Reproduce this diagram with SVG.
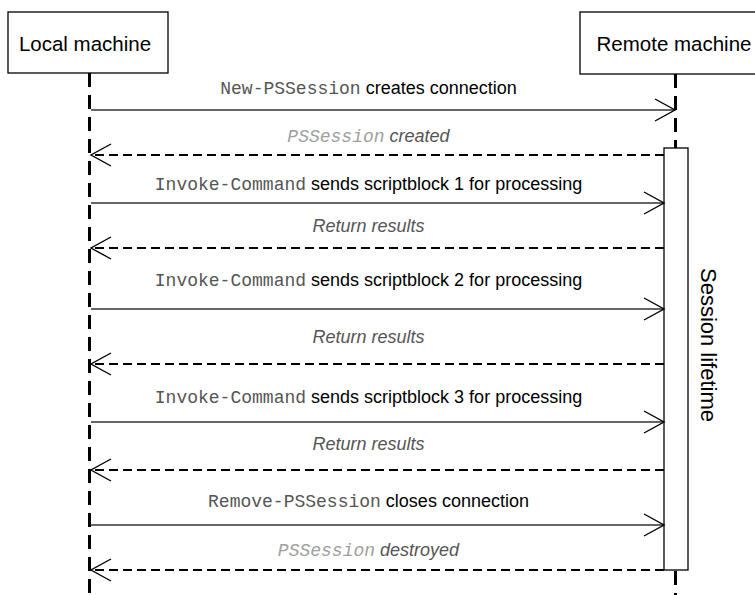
<svg xmlns="http://www.w3.org/2000/svg" width="755" height="595" viewBox="0 0 755 595">
<style>
.box{fill:#fff;stroke:#000;stroke-width:1.3}
.life{stroke:#000;stroke-width:3;stroke-dasharray:14 8;fill:none}
.call{stroke:#333;stroke-width:1.5;fill:none;marker-end:url(#open)}
.ret{stroke:#000;stroke-width:2;stroke-dasharray:9 5;fill:none;marker-end:url(#open)}
.hdr{font-family:"Liberation Sans",Arial,sans-serif;font-size:20.5px;fill:#000}
.lbl{font-family:"Liberation Sans",Arial,sans-serif;font-size:18px;fill:#000;text-anchor:middle}
.rlbl{font-family:"Liberation Sans",Arial,sans-serif;font-size:18px;fill:#555;font-style:italic;text-anchor:middle}
.mono{font-family:"Liberation Mono","Courier New",monospace;fill:#555}
.mgray{font-family:"Liberation Mono","Courier New",monospace;fill:#a0a0a0}
</style>
<defs>
<marker id="open" markerUnits="userSpaceOnUse" markerWidth="24" markerHeight="26" refX="21" refY="12" orient="auto" viewBox="0 0 24 26">
<path d="M1,1 L21,12 L1,23" fill="none" stroke="#000" stroke-width="1.4"/>
</marker>
</defs>
<rect width="755" height="595" fill="#fff"/>
<g id="local">
<rect class="box" x="8" y="12" width="160" height="61"/>
<text class="hdr" x="85" y="51" text-anchor="middle">Local machine</text>
<line class="life" x1="89.5" y1="73" x2="89.5" y2="595"/>
</g>
<g id="remote">
<rect class="box" x="580" y="12" width="190" height="62"/>
<text class="hdr" x="674" y="51" text-anchor="middle">Remote machine</text>
<line class="life" x1="675.5" y1="74" x2="675.5" y2="148"/>
<line class="life" x1="675.5" y1="571" x2="675.5" y2="595"/>
</g>
<g id="activation">
<rect class="box" x="664" y="148" width="24" height="422"/>
<text class="hdr" transform="translate(701,345) rotate(90)" text-anchor="middle" style="font-size:22px">Session lifetime</text>
</g>
<g id="connectors">
<line class="call" x1="91" y1="110" x2="675" y2="110"/>
<line class="ret" x1="664" y1="155" x2="91" y2="155"/>
<line class="call" x1="91" y1="203" x2="664" y2="203"/>
<line class="ret" x1="664" y1="248" x2="91" y2="248"/>
<line class="call" x1="91" y1="309" x2="664" y2="309"/>
<line class="ret" x1="664" y1="364" x2="91" y2="364"/>
<line class="call" x1="91" y1="422" x2="664" y2="422"/>
<line class="ret" x1="664" y1="470" x2="91" y2="470"/>
<line class="call" x1="91" y1="525" x2="664" y2="525"/>
<line class="ret" x1="664" y1="570" x2="91" y2="570"/>
</g>
<g id="labels">
<text class="lbl" x="368.5" y="94"><tspan class="mono">New-PSSession</tspan> creates connection</text>
<text class="rlbl" x="368.5" y="142"><tspan class="mgray">PSSession</tspan> created</text>
<text class="lbl" x="368.5" y="190"><tspan class="mono">Invoke-Command</tspan> sends scriptblock 1 for processing</text>
<text class="rlbl" x="368.5" y="232">Return results</text>
<text class="lbl" x="368.5" y="286"><tspan class="mono">Invoke-Command</tspan> sends scriptblock 2 for processing</text>
<text class="rlbl" x="368.5" y="343">Return results</text>
<text class="lbl" x="368.5" y="403"><tspan class="mono">Invoke-Command</tspan> sends scriptblock 3 for processing</text>
<text class="rlbl" x="368.5" y="450">Return results</text>
<text class="lbl" x="368.5" y="507"><tspan class="mono">Remove-PSSession</tspan> closes connection</text>
<text class="rlbl" x="368.5" y="556"><tspan class="mgray">PSSession</tspan> destroyed</text>
</g>
</svg>
